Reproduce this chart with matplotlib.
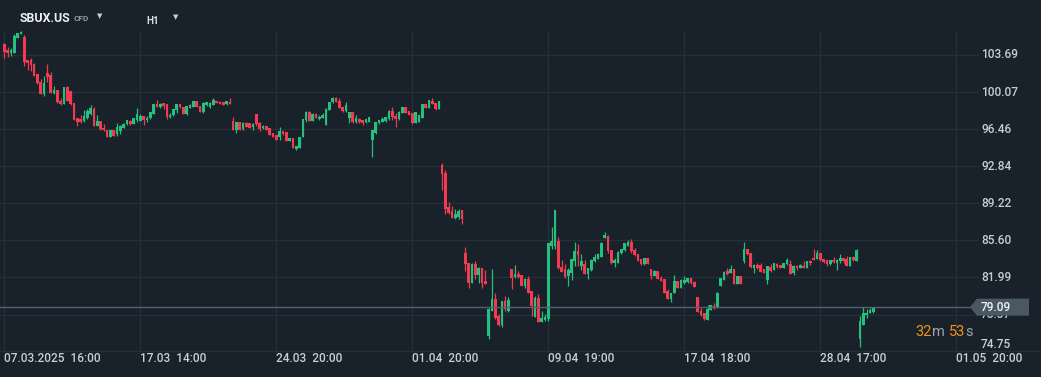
import matplotlib
matplotlib.use("Agg")
import matplotlib.pyplot as plt
import matplotlib.transforms as mtransforms
from matplotlib.patches import Polygon
import numpy as np

# ---------------- data (SBUX.US CFD, H1 candles) ----------------
opens = [104.77,104.18,103.85,103.92,105.39,105.72,105.49,103.20,103.23,102.81,
         101.80,101.01,99.87,101.89,101.73,100.00,100.23,99.18,98.92,100.56,
         100.20,99.05,97.58,97.42,97.26,97.55,97.98,98.40,96.77,97.22,
         96.60,96.41,95.69,96.34,96.02,96.24,96.60,96.93,97.22,96.93,
         97.32,97.26,97.78,97.32,97.55,97.98,98.89,98.63,99.05,98.89,
         97.65,97.81,98.30,98.89,98.66,97.94,98.56,98.60,99.25,98.76,
         98.11,98.82,98.60,98.82,99.25,99.15,99.15,98.89,99.15,97.29,
         96.37,97.19,96.47,97.06,97.03,96.70,97.91,97.06,96.54,96.80,
         96.54,96.05,95.85,95.72,96.28,96.15,95.33,95.56,94.51,94.58,
         95.72,97.35,98.17,97.26,97.91,97.42,97.52,96.86,98.33,99.09,
         99.48,99.25,98.66,98.24,97.52,98.11,97.19,97.45,97.35,97.19,
         97.19,95.39,96.05,97.03,97.19,97.26,97.42,98.27,97.75,97.42,
         98.07,98.66,98.27,98.01,97.03,97.19,97.58,98.89,98.56,99.25,
         98.99,98.43,92.95,92.13,88.86,88.47,87.82,87.88,88.54,84.42,
         83.38,81.48,83.34,82.23,82.95,81.65,76.30,78.71,79.85,78.22,
         77.33,79.69,78.71,82.79,82.04,82.36,82.23,81.16,81.81,80.67,
         78.12,79.95,77.66,77.82,77.89,85.07,85.07,85.57,83.05,82.79,
         82.13,82.46,83.60,84.59,83.12,83.34,82.30,82.72,83.60,83.83,
         84.03,85.83,86.05,84.65,83.38,83.44,84.36,84.65,85.07,85.40,
         84.68,84.26,83.77,83.28,83.87,82.79,82.13,82.63,81.97,81.81,
         80.67,79.91,80.50,81.65,80.99,81.48,81.58,81.91,81.55,80.08,
         78.71,78.48,77.82,78.80,79.20,79.03,81.16,81.74,82.63,82.46,
         82.79,81.39,82.14,83.61,84.75,84.36,82.95,83.21,83.21,82.79,
         81.71,83.02,82.69,83.28,83.21,82.95,83.28,83.28,82.46,83.12,
         82.89,83.12,82.89,83.61,83.93,83.77,84.36,83.77,83.67,83.28,
         83.70,83.35,83.61,83.87,83.77,83.12,84.00,83.61,76.00,77.34,
         78.32,78.54,78.64]
highs = [104.85,104.51,104.34,105.75,105.85,106.00,105.65,103.22,103.36,102.87,
         101.80,101.31,101.67,102.81,102.06,100.65,100.23,99.45,100.56,100.65,
         100.20,99.05,97.58,97.81,98.37,98.47,98.79,98.63,97.81,97.22,
         96.99,96.41,96.34,96.34,97.03,96.90,97.06,97.32,97.32,97.55,
         98.53,97.98,97.78,97.78,98.17,98.89,99.28,99.05,99.05,98.89,
         98.07,98.47,98.89,98.89,98.66,98.76,98.89,99.25,99.25,98.76,
         99.15,99.15,99.15,99.48,99.25,99.22,99.15,99.22,99.48,97.68,
         97.12,97.19,97.19,97.19,97.03,97.03,97.91,97.19,96.86,96.80,
         96.54,96.05,95.85,96.70,96.28,96.15,95.56,95.56,94.84,95.72,
         97.42,98.24,98.24,98.01,98.07,97.84,98.01,98.50,99.15,99.64,
         99.64,99.48,98.66,99.09,98.17,98.11,97.84,97.52,97.35,97.45,
         97.68,96.37,97.19,97.35,97.62,97.68,98.33,98.60,98.01,98.24,
         98.66,98.66,98.27,98.01,98.11,97.84,98.89,98.89,99.31,99.54,
         98.99,99.25,93.11,92.46,89.35,88.96,88.63,88.70,88.54,84.98,
         83.44,83.44,83.60,83.02,82.95,82.72,79.00,82.79,80.50,78.38,
         79.69,80.18,80.08,82.79,83.21,82.63,82.23,81.97,82.13,80.67,
         80.18,80.34,78.71,78.45,85.30,86.87,88.57,85.96,83.67,83.28,
         82.95,83.83,85.40,85.24,84.26,83.67,82.95,83.77,84.32,84.42,
         85.40,86.41,86.15,84.65,83.93,84.59,84.75,85.30,85.66,85.73,
         84.85,84.32,83.77,83.93,83.87,82.79,82.69,82.63,82.13,81.81,
         80.83,80.50,82.23,81.65,81.81,82.13,81.91,81.97,81.65,80.08,
         78.97,78.54,79.29,79.29,79.52,80.57,81.91,82.63,82.89,83.21,
         82.79,82.14,82.14,85.47,84.75,84.36,83.28,83.35,83.38,82.85,
         83.12,83.28,83.35,83.35,83.21,83.44,83.87,83.67,83.21,83.21,
         83.28,83.61,83.61,83.70,84.75,84.65,84.36,83.83,83.67,83.67,
         84.00,83.77,84.26,83.87,84.10,84.00,84.10,84.81,78.22,79.10,
         78.87,79.03,79.09]
lows = [103.43,103.53,103.63,103.85,105.35,105.70,102.65,102.22,102.16,101.67,
        100.85,99.87,99.67,101.01,100.00,99.87,99.05,98.79,98.92,99.22,
        98.79,97.32,96.73,97.09,97.16,97.42,97.81,96.77,96.77,96.34,
        96.24,95.69,95.69,95.79,95.79,96.02,96.54,96.83,96.90,96.93,
        97.16,97.26,96.83,97.16,97.48,97.98,98.63,98.56,98.47,97.42,
        97.58,97.75,98.07,98.50,97.94,97.84,98.50,98.60,98.60,98.11,
        98.01,98.76,98.50,98.82,98.99,98.89,98.82,98.82,98.89,96.37,
        96.05,96.37,96.37,96.70,96.54,96.37,96.80,96.28,96.47,96.34,
        95.88,95.66,95.39,95.39,95.88,95.30,95.33,94.58,94.45,94.58,
        95.72,97.19,97.26,97.26,97.52,97.35,97.52,96.86,98.33,98.99,
        99.15,98.50,98.17,98.17,97.03,97.03,97.09,97.03,96.86,97.03,
        97.19,93.76,95.98,96.96,97.12,97.19,97.35,97.35,96.66,97.35,
        98.01,98.07,97.84,96.93,97.03,97.12,97.58,98.56,98.56,98.92,
        98.33,98.43,90.50,88.21,88.21,87.82,87.72,87.66,87.23,82.63,
        80.93,81.48,81.81,81.48,80.99,81.38,76.00,78.71,77.89,77.24,
        77.17,78.71,78.64,80.83,81.91,81.91,81.16,80.93,80.50,78.22,
        78.12,77.66,77.66,77.73,77.73,84.75,84.75,82.79,82.56,81.91,
        81.16,81.71,83.12,83.12,82.72,82.30,81.87,82.63,83.54,83.77,
        84.03,85.83,84.42,83.34,83.05,83.38,84.32,84.59,85.01,84.42,
        84.10,83.60,83.21,83.21,83.28,81.87,82.13,81.81,81.65,80.50,
        79.91,79.59,80.50,80.99,80.93,81.38,81.48,81.38,81.09,78.64,
        78.22,77.82,77.82,78.77,78.87,78.97,81.16,81.74,82.23,82.40,
        81.39,81.39,81.39,83.44,84.20,82.95,82.46,82.85,82.56,82.46,
        81.39,82.56,82.69,82.95,82.89,82.89,83.21,82.36,82.20,82.69,
        82.89,82.89,82.89,83.18,83.67,83.77,83.61,83.44,83.12,83.21,
        83.44,82.72,83.35,83.35,83.12,83.12,83.61,83.61,75.18,77.34,
        77.99,78.48,78.54]
closes = [104.02,103.85,104.18,105.55,105.81,105.98,103.04,102.94,102.71,101.67,
          100.91,99.87,100.91,101.57,100.03,100.26,99.12,98.92,100.56,99.22,
          98.89,97.32,97.16,97.13,97.71,98.20,98.56,96.77,97.22,96.44,
          96.34,95.69,96.34,95.79,96.67,96.77,96.93,97.32,96.96,97.55,
          97.98,97.75,97.32,97.55,98.17,98.89,98.63,98.95,98.73,97.65,
          97.88,98.47,98.89,98.60,97.94,98.76,98.82,99.25,98.60,98.11,
          99.05,99.09,98.99,99.31,98.99,98.92,98.82,99.22,98.89,96.37,
          97.12,96.37,97.06,96.70,96.60,96.93,96.93,96.44,96.77,96.41,
          95.88,95.72,95.39,96.31,95.98,95.30,95.56,94.58,94.81,95.72,
          97.42,98.17,97.26,97.91,97.52,97.68,97.84,98.43,99.15,99.48,
          99.15,98.50,98.24,98.82,98.17,97.19,97.52,97.12,97.03,97.42,
          97.62,96.37,97.19,97.35,97.45,97.62,98.27,97.68,97.42,98.17,
          98.66,98.07,97.84,97.03,98.11,97.84,98.89,98.56,99.31,98.92,
          98.43,99.25,92.06,88.70,88.31,87.82,88.21,88.47,87.66,83.28,
          81.48,83.34,82.23,82.95,81.48,81.38,78.87,79.85,78.05,77.33,
          79.69,78.87,79.78,81.97,82.30,82.04,81.16,81.87,80.50,79.20,
          80.01,77.66,77.99,78.12,85.30,85.50,88.57,82.95,82.56,82.04,
          82.69,83.83,84.59,84.19,83.60,82.30,82.95,83.67,84.00,84.26,
          85.30,86.15,84.52,83.44,83.70,84.49,84.75,85.30,85.40,84.52,
          84.16,83.60,83.28,83.87,83.28,82.13,82.63,81.81,81.65,80.50,
          79.91,80.50,81.65,80.99,81.71,81.71,81.91,81.48,81.09,78.64,
          78.32,77.89,78.87,79.29,78.97,80.44,81.91,82.56,82.36,82.79,
          81.39,82.14,81.39,84.75,84.26,83.05,83.21,82.95,82.56,82.46,
          83.12,82.63,83.35,83.02,82.95,83.38,83.67,82.36,83.12,82.89,
          83.18,82.89,83.61,83.35,83.67,84.36,83.70,83.54,83.28,83.67,
          83.51,83.70,83.93,83.61,83.12,84.00,83.67,84.68,77.73,78.54,
          78.54,78.77,79.09]

price_ticks = [103.69, 100.07, 96.46, 92.84, 89.22, 85.60, 81.99, 78.37, 74.75]
time_labels = ["07.03.2025  16:00", "17.03  14:00", "24.03  20:00", "01.04  20:00",
               "09.04  19:00", "17.04  18:00", "28.04  17:00", "01.05  20:00"]
label_step = 41          # candles between consecutive time labels
last_price = 79.09
countdown = [("32", "num"), ("m", "unit"), ("53", "num"), ("s", "unit")]

# ---------------- style ----------------
BG = '#19212a'
GRID = '#252f38'
UP = '#26c07e'
DOWN = '#f23a50'
TXT = '#c9ced3'
FONT = ['Roboto', 'DejaVu Sans']
plt.rcParams['font.family'] = FONT

W, H = 1041, 377
fig = plt.figure(figsize=(W / 100, H / 100), dpi=100, facecolor=BG)
ax_bottom_px = 26
ax_h_px = 351
ax = fig.add_axes([0, ax_bottom_px / H, 1, ax_h_px / H])
ax.set_facecolor(BG)

px_per_candle = 3.317
x0 = -4.3 / px_per_candle
ax.set_xlim(x0, x0 + W / px_per_candle)
ppd = 10.25      # pixels per price unit
ymax = price_ticks[0] + 55 / ppd
ymin = price_ticks[0] - 296 / ppd
ax.set_ylim(ymin, ymax)

for s in ['top', 'left', 'right']:
    ax.spines[s].set_visible(False)
ax.spines['bottom'].set_color(GRID)
ax.spines['bottom'].set_linewidth(1)
ax.set_xticks([])
ax.set_yticks([])

# grid
plot_right = 978 / W
for t in price_ticks:
    ax.axhline(t, xmin=0, xmax=plot_right, color=GRID, lw=1, zorder=0)
for k in range(len(time_labels)):
    ax.axvline(k * label_step, ymin=0, ymax=(ax_h_px - 32) / ax_h_px, color=GRID, lw=1, zorder=0)

# candles
o = np.array(opens); h = np.array(highs); l = np.array(lows); c = np.array(closes)
x = np.arange(len(o))
cols = np.where(c >= o, UP, DOWN)
ax.vlines(x, l, h, colors=cols, lw=0.9, zorder=2)
bottoms = np.minimum(o, c)
heights = np.maximum(np.abs(c - o), 0.07)
ax.bar(x, heights, width=0.8, bottom=bottoms, color=cols, linewidth=0, zorder=3)

# current price line + tag
ax.axhline(last_price, xmin=0, xmax=970 / W, color='#55626d', lw=1.0, zorder=4)
blend = mtransforms.blended_transform_factory(ax.transAxes, ax.transData)
hh = 8.5 / ppd
tag = Polygon([(970 / W, last_price), (977 / W, last_price + hh), (1029 / W, last_price + hh),
               (1029 / W, last_price - hh), (977 / W, last_price - hh)],
              closed=True, transform=blend, facecolor='#4a5863', edgecolor='none',
              zorder=6, clip_on=False)

# y labels (78.37 sits partly under the current-price tag, as in the source)
for t in price_ticks:
    ty = max(t, ymin + 6.5 / ppd)
    ax.text(981 / W, ty, f"{t:.2f}", transform=blend, ha='left', va='center',
            fontsize=8.6, color=TXT, fontweight='medium', zorder=5, clip_on=False)
ax.add_patch(tag)
ax.text(981 / W, last_price, f"{last_price:.2f}", transform=blend, ha='left', va='center',
        fontsize=8.6, color='#f2f4f6', fontweight='medium', zorder=7, clip_on=False)

# x labels
xblend = mtransforms.blended_transform_factory(ax.transData, ax.transAxes)
for k, lab in enumerate(time_labels):
    ax.text(k * label_step, -7.5 / ax_h_px, lab, transform=xblend, ha='left', va='center',
            fontsize=8.6, color=TXT, fontweight='medium', clip_on=False)

# header
def fx(p): return p / W
def fy(p): return 1 - p / H
fig.text(fx(20), fy(18), "SBUX.US", fontsize=8.8, fontweight='bold', color='#eef1f3', va='center')
fig.text(fx(73.5), fy(18.5), "CFD", fontsize=6.0, fontweight='bold', color='#8e99a3', va='center')
fig.text(fx(96.5), fy(16.5), "\u25BC", fontsize=5, color='#c9ced3', va='center', family='DejaVu Sans')
fig.text(fx(146), fy(20.5), "H1", fontsize=7.2, fontweight='bold', color='#d8dde1', va='center')
fig.text(fx(172.5), fy(17), "\u25BC", fontsize=5, color='#c9ced3', va='center', family='DejaVu Sans')

# countdown
cx = [915, 932, 949, 965]
for (s, kind), xx in zip(countdown, cx):
    fig.text(fx(xx), fy(332), s, fontsize=10.5, va='center',
             color='#f0931c' if kind == 'num' else '#9aa3ab')

fig.savefig("out.png", dpi=100, facecolor=BG)
